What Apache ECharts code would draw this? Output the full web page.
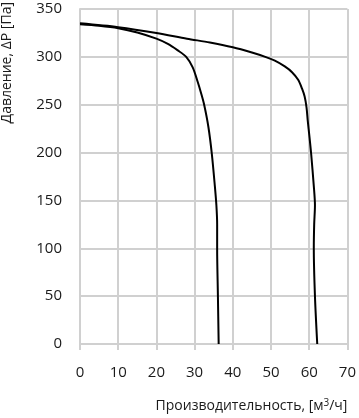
<!DOCTYPE html>
<html><head><meta charset="utf-8">
<script src="https://cdn.jsdelivr.net/npm/echarts@6/dist/echarts.min.js"></script>
<style>html,body{margin:0;padding:0;background:#fff}#c{width:359px;height:418px}</style>
</head><body><div id="c"></div>
<script>
// Curve 1 (outer): [flow m3/h, pressure Pa]
var curveOuter = [[0,335],[10,331],[20,325],[28,319],[34,315],[40,310],[45,304.5],[48.5,300],[51,296],[53.6,290],[55.5,284],[57.1,276],[58.1,267],[58.8,258.5],[59.3,247],[59.6,234],[60.1,215],[60.5,199],[61.2,165],[61.5,145],[61.3,125],[61.2,100],[61.5,50],[62.1,0]];
// Curve 2 (inner)
var curveInner = [[0,334],[5,332.5],[10,330],[15,325.5],[20,319],[23,313.5],[25.5,307],[27.8,300],[29.5,289],[30.8,274],[31.7,262],[32.5,250],[33.6,227],[34.5,199],[35.3,165],[35.7,145],[35.9,125],[35.9,100],[36.1,50],[36.3,0]];
var xTitle = 'Производительность, [м{s|3}/ч]';
var yTitle = 'Давление, ΔP [Па]';
var FONT = '"Open Sans", "Noto Sans", sans-serif';
var chart = echarts.init(document.getElementById('c'), null, {renderer:'canvas'});
var gridColor = '#d0d0d0';
chart.setOption({
  animation:false,
  grid:{left:80,right:5,top:9,bottom:74},
  xAxis:{type:'value',min:0,max:70,interval:10,
    axisLine:{show:true,lineStyle:{color:gridColor,width:2}},
    axisTick:{show:true,length:6,lineStyle:{color:gridColor,width:2}},
    splitLine:{show:true,lineStyle:{color:gridColor,width:2}},
    axisLabel:{margin:21,fontSize:15,color:'#1a1a1a',fontFamily:FONT},
    name:xTitle,nameLocation:'end',nameGap:0,
    nameTextStyle:{fontSize:14,color:'#1a1a1a',fontFamily:FONT,align:'right',verticalAlign:'top',padding:[54,0,0,0],
      rich:{s:{fontSize:10,verticalAlign:'top',padding:[0,0,7,0],color:'#1a1a1a',fontFamily:FONT}}}
  },
  yAxis:{type:'value',min:0,max:350,interval:50,
    axisLine:{show:true,lineStyle:{color:gridColor,width:2}},
    axisTick:{show:false},
    splitLine:{show:true,lineStyle:{color:gridColor,width:2}},
    axisLabel:{margin:18,fontSize:15,color:'#1a1a1a',fontFamily:FONT}
  },
  graphic:[{type:'text',left:0,top:2,rotation:Math.PI/2,
    style:{text:yTitle,fontSize:14,fill:'#1a1a1a',fontFamily:FONT}}],
  series:[
    {type:'line',data:curveOuter,smooth:0.3,showSymbol:false,lineStyle:{color:'#000',width:2}},
    {type:'line',data:curveInner,smooth:0.3,showSymbol:false,lineStyle:{color:'#000',width:2}}
  ]
});
</script></body></html>
